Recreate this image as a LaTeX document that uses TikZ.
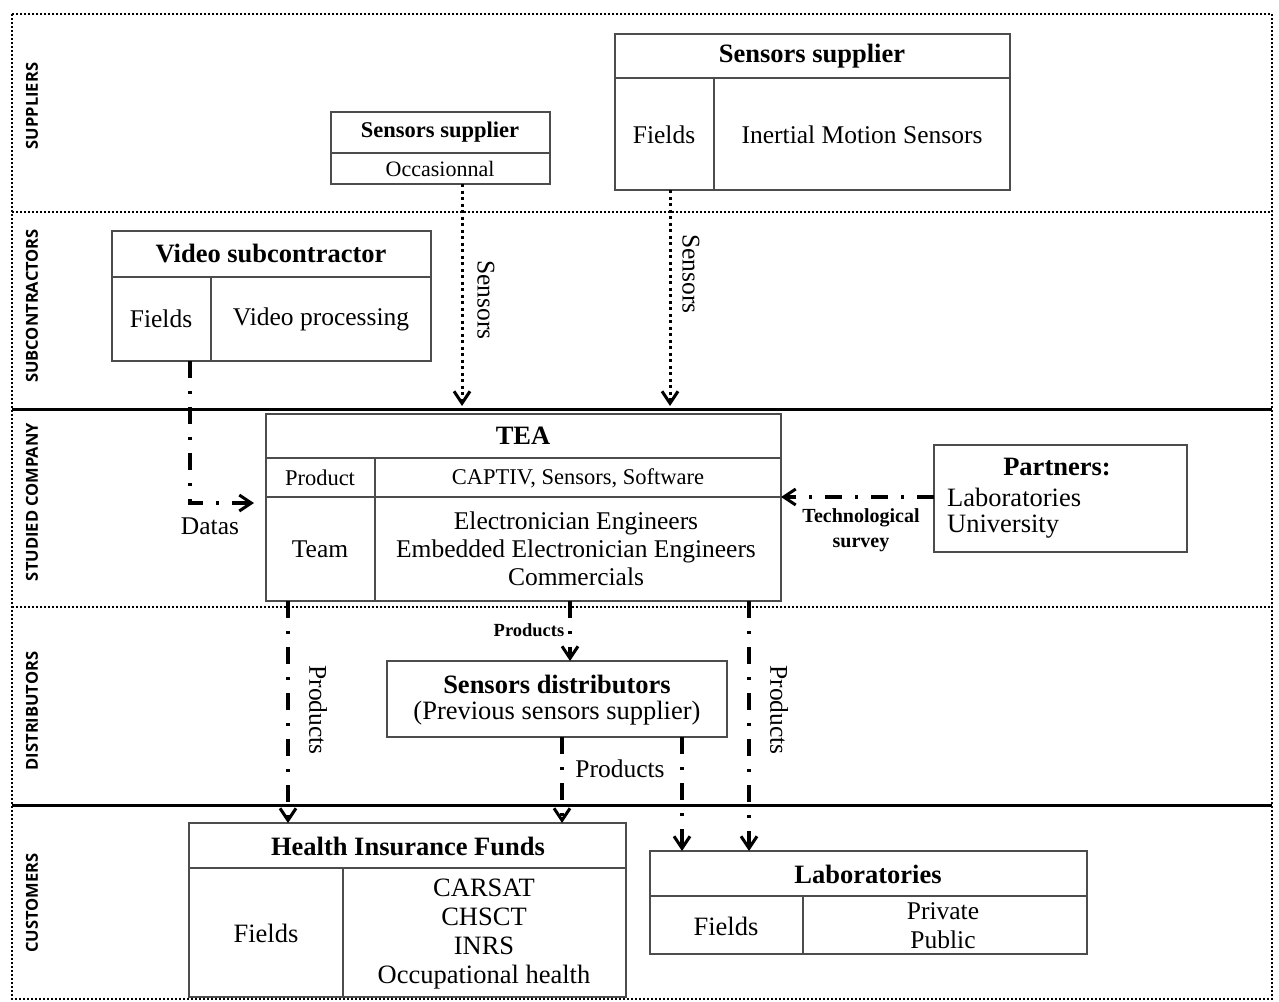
\documentclass[tikz,border=0pt]{standalone}
\usepackage{fontspec}
\setmainfont{Liberation Serif}
\newfontfamily\lanefont{Open Sans}
\usetikzlibrary{arrows.meta}
\begin{document}
\begin{tikzpicture}[x=1pt,y=-1pt,
  box/.style={draw=black!70, line width=1.5pt, inner sep=0pt, outer sep=0pt, anchor=north west},
  inner/.style={draw=black!70, line width=1.5pt},
  lane/.style={rotate=90, font=\lanefont\bfseries\fontsize{16.5}{19}\selectfont},
  tx/.style={inner sep=0pt, font=\fontsize{25.5}{28}\selectfont, align=center},
  tb/.style={inner sep=0pt, font=\bfseries\fontsize{26.5}{30}\selectfont, align=center},
  ts/.style={inner sep=0pt, font=\fontsize{22.5}{26}\selectfont, align=center},
  sep dot/.style={line width=2.5pt, dash pattern=on 2pt off 2pt},
  sep solid/.style={line width=3pt},
  tipv/.style={-{Straight Barb[length=12pt,width=16pt,line width=3pt]}},
  dotarrow/.style={tipv, line width=3pt, dash pattern=on 3pt off 3.5pt},
  dasharrow/.style={tipv, line width=4pt, dash pattern=on 17pt off 13pt on 3pt off 13pt}
]
\useasboundingbox (0,0) rectangle (1279,1001);

% frame and lanes
\draw[line width=2pt, dash pattern=on 2pt off 2pt] (12,14) rectangle (1272,999);
\draw[sep dot] (12,212) -- (1272,212);
\draw[sep solid] (12,409) -- (1272,409);
\draw[sep dot] (12,607) -- (1272,607);
\draw[sep solid] (12,805) -- (1272,805);

\node[lane] (l1) at (32,106) {SUPPLIERS};
\node[lane] (l2) at (32,306) {SUBCONTRACTORS};
\node[lane] (l3) at (32,502) {STUDIED COMPANY};
\node[lane] (l4) at (32,711) {DISTRIBUTORS};
\node[lane] (l5) at (32,903) {CUSTOMERS};

% small sensors supplier
\node[box, minimum width=219pt, minimum height=72pt] (occ) at (331,112) {};
\draw[inner] (331,153) -- (550,153);
\node[tb, font=\bfseries\fontsize{22.5}{26}\selectfont] (occt) at (440,132) {Sensors supplier};
\node[ts, font=\fontsize{22}{26}\selectfont] (occs) at (440,169) {Occasionnal};

% large sensors supplier
\node[box, minimum width=395pt, minimum height=156pt] (big) at (615,34) {};
\draw[inner] (615,78) -- (1010,78);
\draw[inner] (714,78) -- (714,190);
\node[tb] (bigt) at (812,56) {Sensors supplier};
\node[tx] (bigf) at (664,135) {Fields};
\node[tx] (bigv) at (862,135) {Inertial Motion Sensors};

% video subcontractor
\node[box, minimum width=319pt, minimum height=130pt] (vid) at (112,231) {};
\draw[inner] (112,277) -- (431,277);
\draw[inner] (211,277) -- (211,361);
\node[tb] (vidt) at (271,254) {Video subcontractor};
\node[tx] (vidf) at (161,319) {Fields};
\node[tx] (vidv) at (321,319) {Video processing};

% TEA
\node[box, minimum width=515pt, minimum height=187pt] (tea) at (266,414) {};
\draw[inner] (266,458) -- (781,458);
\draw[inner] (266,497) -- (781,497);
\draw[inner] (375,458) -- (375,601);
\node[tb] (teat) at (523,436) {TEA};
\node[ts] (teap) at (320,478) {Product};
\node[ts] (teapv) at (578,478) {CAPTIV, Sensors, Software};
\node[tx] (teatm) at (320,549) {Team};
\node[tx] (teatv) at (576,549) {Electronician Engineers\\Embedded Electronician Engineers\\Commercials};

% partners
\node[box, minimum width=253pt, minimum height=107pt] (part) at (934,445) {};
\node[tb] (partt) at (1057,467) {Partners:};
\node[tx, anchor=west, font=\fontsize{26.5}{30}\selectfont] (partl) at (947,497) {Laboratories};
\node[tx, anchor=west, font=\fontsize{26.5}{30}\selectfont] (partu) at (947,527) {University};

% sensors distributors
\node[box, minimum width=340pt, minimum height=76pt] (dist) at (387,661) {};
\node[tb] (distt) at (557,684) {Sensors distributors};
\node[tx, font=\fontsize{26.5}{30}\selectfont] (dists) at (557,713) {(Previous sensors supplier)};

% health insurance funds
\node[box, minimum width=437pt, minimum height=174pt] (hif) at (189,823) {};
\draw[inner] (189,868) -- (626,868);
\draw[inner] (343,868) -- (343,997);
\node[tb] (hift) at (408,846) {Health Insurance Funds};
\node[tx, font=\fontsize{26.5}{30}\selectfont] (hiff) at (266,933) {Fields};
\node[tx, font=\fontsize{26.5}{29.3}\selectfont] (hifv) at (484,934) {CARSAT\\CHSCT\\INRS\\Occupational health};

% laboratories
\node[box, minimum width=437pt, minimum height=103pt] (lab) at (650,851) {};
\draw[inner] (650,896) -- (1087,896);
\draw[inner] (803,896) -- (803,954);
\node[tb] (labt) at (868,874) {Laboratories};
\node[tx, font=\fontsize{26.5}{30}\selectfont] (labf) at (726,926) {Fields};
\node[tx, font=\fontsize{25.5}{29}\selectfont] (labv) at (943,926) {Private\\Public};

% connectors
\draw[dotarrow, shorten >=8pt] (occ.south -| 462,0) -- (tea.north -| 462,0);
\node[tx] (la) at (486,300) [rotate=-90] {Sensors};
\draw[dotarrow, shorten >=8pt] (big.south -| 670,0) -- (tea.north -| 670,0);
\node[tx] (lb) at (691,274) [rotate=-90] {Sensors};

\draw[dasharrow, shorten >=12pt] (vid.south -| 190,0) |- (tea.west |- 0,503);
\node[tx] (lc) at (210,526) {Datas};

\draw[dasharrow] (part.west |- 0,497) -- (tea.east |- 0,497);
\node[tb, font=\bfseries\fontsize{20}{25}\selectfont] (ld) at (861,530) {Technological\\survey};

\draw[dasharrow] (tea.south -| 288,0) -- (hif.north -| 288,0);
\node[tx] (le) at (318,710) [rotate=-90] {Products};

\draw[dasharrow] (tea.south -| 570,0) -- (dist.north -| 570,0);
\node[tb, font=\bfseries\fontsize{18.5}{22}\selectfont] (lf) at (529,630) {Products};

\draw[dasharrow] (dist.south -| 562,0) -- (hif.north -| 562,0);
\draw[dasharrow] (dist.south -| 682,0) -- (lab.north -| 682,0);
\node[tx] (lg) at (620,769) {Products};

\draw[dasharrow] (tea.south -| 749,0) -- (lab.north -| 749,0);
\node[tx] (li) at (779,710) [rotate=-90] {Products};
\end{tikzpicture}
\end{document}
